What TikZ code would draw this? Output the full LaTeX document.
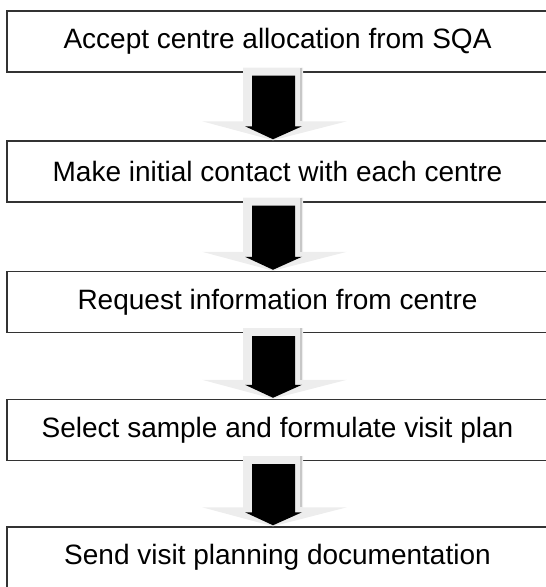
\documentclass[tikz,border=0pt]{standalone}
\usepackage{fontspec}
\setmainfont{Liberation Sans}
\usetikzlibrary{calc}

\tikzset{
  stagebox/.style={draw=black!80, line width=1.1pt, rectangle, minimum width=405.75pt,
    minimum height=45.75pt, inner sep=0pt, font=\fontsize{21}{25}\selectfont},
  shadowarrow/.style={fill=black!7, draw=none},
  mainarrow/.style={fill=black, draw=none}
}

% arrow between two stages, #1 = upper node, #2 = lower node
\newcommand{\stagearrow}[2]{%
  \coordinate (a) at ($(#1.south)+(-4.5,0)$);
  \coordinate (b) at ($(#2.north)+(-4.5,0)$);
  \fill[shadowarrow] ($(a)+(-30,-5)$) -- ($(a)+(30,-5)$) -- ($(b)+(30,-19)$)
    -- ($(b)+(74,-19)$) -- (b) -- ($(b)+(-71,-19)$) -- ($(b)+(-30,-19)$) -- cycle;
  \draw[black!22, line width=2pt] ($(a)+(28,-5)$) -- ($(b)+(28,-19)$);
  \fill[mainarrow] ($(a)+(-21,3)$) -- ($(a)+(22,3)$) -- ($(b)+(22,-14)$)
    -- ($(b)+(29,-14)$) -- ($(b)+(0,-1)$) -- ($(b)+(-28,-14)$) -- ($(b)+(-21,-14)$) -- cycle;
}

\begin{document}
\begin{tikzpicture}[x=0.75pt, y=-0.75pt]
	  \useasboundingbox (0,0) rectangle (546,587);
	  
	  \node[stagebox] (s1) at (277.5,41.5) {Accept centre allocation from SQA};
	  \node[stagebox] (s2) at (277.5,171.5) {Make initial contact with each centre};
	  \node[stagebox] (s3) at (277.5,302) {Request information from centre};
	  \node[stagebox] (s4) at (277.5,430) {Select sample and formulate visit plan};
	  \node[stagebox] (s5) at (277.5,557.5) {Send visit planning documentation};
	  
	  \stagearrow{s1}{s2}
	  \stagearrow{s2}{s3}
	  \stagearrow{s3}{s4}
	  \stagearrow{s4}{s5}
	\end{tikzpicture}
\end{document}
